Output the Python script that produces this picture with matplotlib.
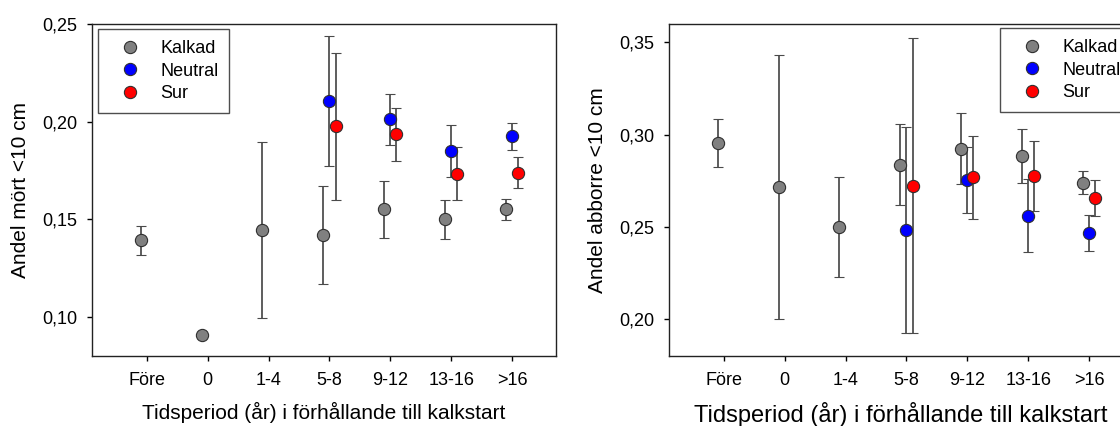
import matplotlib
matplotlib.use("Agg")
import matplotlib.pyplot as plt
import numpy as np

plt.rcParams['font.family'] = ['Liberation Sans', 'DejaVu Sans']

# ---- data ----
categories = ["Före", "0", "1-4", "5-8", "9-12", "13-16", ">16"]
series_names = ["Kalkad", "Neutral", "Sur"]

# Left: Andel mört <10 cm
mort_kalkad = [0.1393, 0.0910, 0.1445, 0.1418, 0.1552, 0.1500, 0.1552]
mort_kalkad_err = [0.0074, 0.0, 0.0452, 0.0251, 0.0146, 0.0100, 0.0054]
mort_neutral = [np.nan, np.nan, np.nan, 0.2108, 0.2011, 0.1851, 0.1924]
mort_neutral_err = [0, 0, 0, 0.0333, 0.0130, 0.0133, 0.0069]
mort_sur = [np.nan, np.nan, np.nan, 0.1976, 0.1936, 0.1733, 0.1739]
mort_sur_err = [0, 0, 0, 0.0377, 0.0135, 0.0136, 0.0078]

# Right: Andel abborre <10 cm
abb_kalkad = [0.2955, 0.2718, 0.2500, 0.2838, 0.2924, 0.2884, 0.2740]
abb_kalkad_err = [0.0131, 0.0716, 0.0269, 0.0221, 0.0193, 0.0146, 0.0061]
abb_neutral = [np.nan, np.nan, np.nan, 0.2482, 0.2753, 0.2560, 0.2465]
abb_neutral_err = [0, 0, 0, 0.0558, 0.0179, 0.0197, 0.0097]
abb_sur = [np.nan, np.nan, np.nan, 0.2724, 0.2768, 0.2776, 0.2657]
abb_sur_err = [0, 0, 0, 0.0798, 0.0223, 0.0188, 0.0099]

mort_yticks = [0.10, 0.15, 0.20, 0.25]
mort_yticklabels = ["0,10", "0,15", "0,20", "0,25"]
abb_yticks = [0.20, 0.25, 0.30, 0.35]
abb_yticklabels = ["0,20", "0,25", "0,30", "0,35"]

xlabel = "Tidsperiod (år) i förhållande till kalkstart"
mort_ylabel = "Andel mört <10 cm"
abb_ylabel = "Andel abborre <10 cm"

# ---- style ----
colors = {"Kalkad": "#808080", "Neutral": "#0000ff", "Sur": "#ff0000"}
offsets = {"Kalkad": -0.1, "Neutral": 0.0, "Sur": 0.1}
ecol = "#4a4a4a"

W, H = 1120, 426
fig = plt.figure(figsize=(W / 100, H / 100), dpi=100)

ax1 = fig.add_axes([92 / W, (H - 356) / H, 464 / W, 332 / H])
ax2 = fig.add_axes([669 / W, (H - 356) / H, 464 / W, 332 / H])

x = np.arange(1, len(categories) + 1)


def draw(ax, data, ylim, yticks, yticklabels, ylabel, xlabel_size, legend_kw):
    handles = []
    for name, (vals, errs) in zip(series_names, data):
        vals = np.array(vals, dtype=float)
        errs = np.array(errs, dtype=float)
        h = ax.errorbar(x + offsets[name], vals, yerr=errs, fmt='o',
                        color=colors[name], markerfacecolor=colors[name],
                        markeredgecolor="#303030", markeredgewidth=0.8,
                        markersize=8.8, ecolor=ecol, elinewidth=1.25,
                        capsize=3.8, capthick=1.25, label=name, zorder=3)
        handles.append(h)
    ax.set_xlim(0.1, 7.72)
    ax.set_ylim(*ylim)
    ax.set_xticks(x)
    ax.set_xticklabels(categories, fontsize=13)
    ax.set_yticks(yticks)
    ax.set_yticklabels(yticklabels, fontsize=13)
    ax.tick_params(axis='x', direction='out', length=5 / 1.389, width=1.0,
                   pad=8, top=False)
    ax.tick_params(axis='y', direction='out', length=5 / 1.389, width=1.0,
                   pad=7, right=False)
    for s in ax.spines.values():
        s.set_linewidth(1.0)
        s.set_color("#222222")
    ax.set_xlabel(xlabel, fontsize=xlabel_size, labelpad=9.5)
    ax.set_ylabel(ylabel, fontsize=15, labelpad=9)
    leg = ax.legend(handles=[h[0] for h in handles], labels=series_names,
                    fontsize=13, frameon=True, fancybox=False,
                    edgecolor="#222222", borderpad=0.6, handlelength=2.3,
                    handletextpad=0.55, labelspacing=0.32,
                    borderaxespad=0, **legend_kw)
    leg.get_frame().set_linewidth(1.0)


draw(ax1,
     [(mort_kalkad, mort_kalkad_err), (mort_neutral, mort_neutral_err),
      (mort_sur, mort_sur_err)],
     (0.08, 0.25), mort_yticks, mort_yticklabels, mort_ylabel, 15,
     dict(loc='upper left', bbox_to_anchor=(6 / 464, (356 - 29) / 332)))

draw(ax2,
     [(abb_kalkad, abb_kalkad_err), (abb_neutral, abb_neutral_err),
      (abb_sur, abb_sur_err)],
     (0.18, 0.36), abb_yticks, abb_yticklabels, abb_ylabel, 17,
     dict(loc='upper left', bbox_to_anchor=((1000 - 669) / 464, (356 - 28) / 332)))

fig.savefig("out.png", dpi=100)
